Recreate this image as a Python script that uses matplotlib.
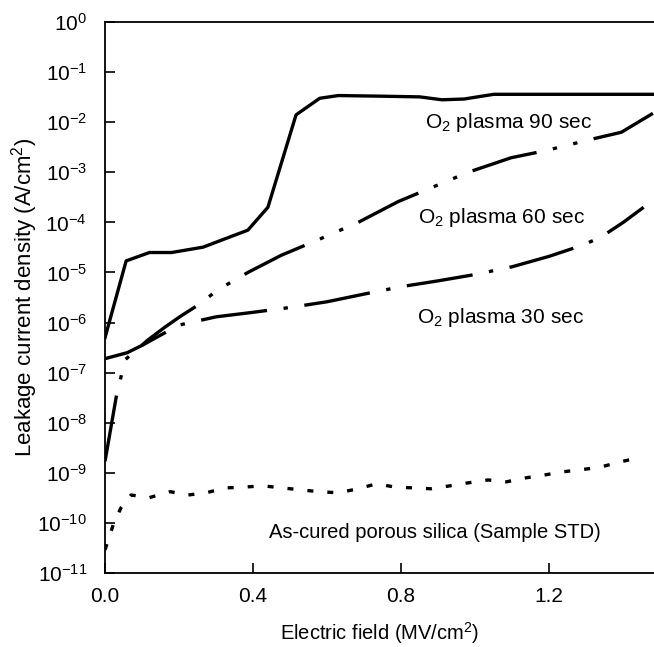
import numpy as np
import matplotlib
matplotlib.use('Agg')
import matplotlib.pyplot as plt

plt.rcParams['font.family'] = ['Liberation Sans', 'DejaVu Sans']
plt.rcParams['mathtext.fontset'] = 'custom'
plt.rcParams['mathtext.rm'] = 'Liberation Sans'
plt.rcParams['mathtext.it'] = 'Liberation Sans'

# O2 plasma 90 sec
x90 = [0.0, 0.057, 0.12, 0.18, 0.265, 0.386, 0.44, 0.516, 0.58, 0.63, 0.75,
       0.85, 0.91, 0.97, 1.05, 1.2, 1.48]
y90 = [5e-7, 1.7e-5, 2.5e-5, 2.5e-5, 3.2e-5, 7e-5, 2e-4, 1.4e-2, 3.0e-2,
       3.4e-2, 3.3e-2, 3.2e-2, 2.8e-2, 2.9e-2, 3.6e-2, 3.6e-2, 3.6e-2]

# O2 plasma 60 sec
x60 = [0.0, 0.03, 0.054, 0.116, 0.162, 0.205, 0.25, 0.305, 0.386, 0.476,
       0.576, 0.684, 0.792, 0.881, 0.981, 1.097, 1.19, 1.305, 1.395, 1.48]
y60 = [1.7e-9, 3.2e-8, 1.8e-7, 4.5e-7, 8.1e-7, 1.35e-6, 2.2e-6, 4.5e-6,
       1.0e-5, 2.2e-5, 4.5e-5, 1.0e-4, 2.6e-4, 4.9e-4, 1.0e-3, 1.95e-3,
       2.7e-3, 4.4e-3, 6.3e-3, 1.5e-2]

# O2 plasma 30 sec
x30 = [0.0, 0.06, 0.1, 0.15, 0.2, 0.3, 0.4, 0.5, 0.6, 0.7, 0.8, 0.9, 1.0,
       1.1, 1.2, 1.29, 1.34, 1.40, 1.455]
y30 = [1.9e-7, 2.5e-7, 3.5e-7, 5.6e-7, 8.9e-7, 1.3e-6, 1.6e-6, 2.0e-6,
       2.6e-6, 3.7e-6, 5.2e-6, 6.8e-6, 9.1e-6, 1.3e-5, 2.1e-5, 3.5e-5,
       5.1e-5, 1.0e-4, 2.0e-4]

# as-cured porous silica
xstd = [0.0, 0.022, 0.043, 0.07, 0.12, 0.176, 0.224, 0.273, 0.327, 0.378,
        0.427, 0.476, 0.527, 0.576, 0.63, 0.684, 0.732, 0.784, 0.832, 0.881,
        0.932, 0.981, 1.035, 1.084, 1.135, 1.189, 1.238, 1.286, 1.338, 1.392,
        1.441]
ystd = [2.9e-11, 9.1e-11, 2.0e-10, 3.6e-10, 3.2e-10, 4.2e-10, 3.6e-10,
        4.0e-10, 5.0e-10, 5.2e-10, 5.5e-10, 5.0e-10, 4.6e-10, 4.2e-10,
        4.0e-10, 4.8e-10, 6.0e-10, 5.2e-10, 5.0e-10, 4.8e-10, 5.5e-10,
        6.3e-10, 7.2e-10, 6.6e-10, 7.9e-10, 9.1e-10, 1.05e-9, 1.15e-9,
        1.3e-9, 1.65e-9, 2.0e-9]

xticks = [0.0, 0.4, 0.8, 1.2]
xticklabels = ['0.0', '0.4', '0.8', '1.2']
yexps = list(range(-11, 1))

fig = plt.figure(figsize=(6.54, 6.47), dpi=100)
ax = fig.add_axes([0.1606, 0.1144, 0.8394, 0.8516])

fs = 15
lw = 2.4
ax.plot(x90, y90, color='black', lw=lw, solid_joinstyle='round')
ax.plot(x60, y60, color='black', lw=lw, linestyle=(0, (20, 5, 1.3, 5, 1.3, 5)))
ax.plot(x30, y30, color='black', lw=lw, linestyle=(0, (20, 5, 1.3, 5)))
ax.plot(xstd, ystd, color='black', lw=lw, linestyle=(0, (1.8, 4.2)))

ax.set_yscale('log')
ax.set_xlim(0, 1.483)
ax.set_ylim(1e-11, 1e0)

ax.set_xticks(xticks)
ax.set_xticklabels(xticklabels)
ax.set_yticks([10.0 ** e for e in yexps])
ax.set_yticklabels([r'10$^{%d}$' % e for e in yexps])
ax.yaxis.set_minor_locator(matplotlib.ticker.NullLocator())
ax.tick_params(axis='both', direction='in', length=7, width=1.2, labelsize=fs)
ax.tick_params(axis='x', pad=10)
ax.tick_params(axis='y', pad=13)

ax.spines['right'].set_visible(False)
for s in ['left', 'bottom', 'top']:
    ax.spines[s].set_linewidth(1.3)

ax.set_xlabel('Electric field (MV/cm$^2$)', fontsize=14.5, labelpad=10)
ax.set_ylabel('Leakage current density (A/cm$^2$)', fontsize=16)
ax.yaxis.set_label_coords(-0.119, 0.5)

ax.text(1.09, 1.0e-2, 'O$_2$ plasma 90 sec', fontsize=fs, ha='center', va='center')
ax.text(1.07, 1.25e-4, 'O$_2$ plasma 60 sec', fontsize=fs, ha='center', va='center')
ax.text(1.068, 1.25e-6, 'O$_2$ plasma 30 sec', fontsize=fs, ha='center', va='center')
ax.text(0.89, 6.5e-11, 'As-cured porous silica (Sample STD)', fontsize=14.5,
        ha='center', va='center')

plt.savefig('out.png', dpi=100)
plt.close()
